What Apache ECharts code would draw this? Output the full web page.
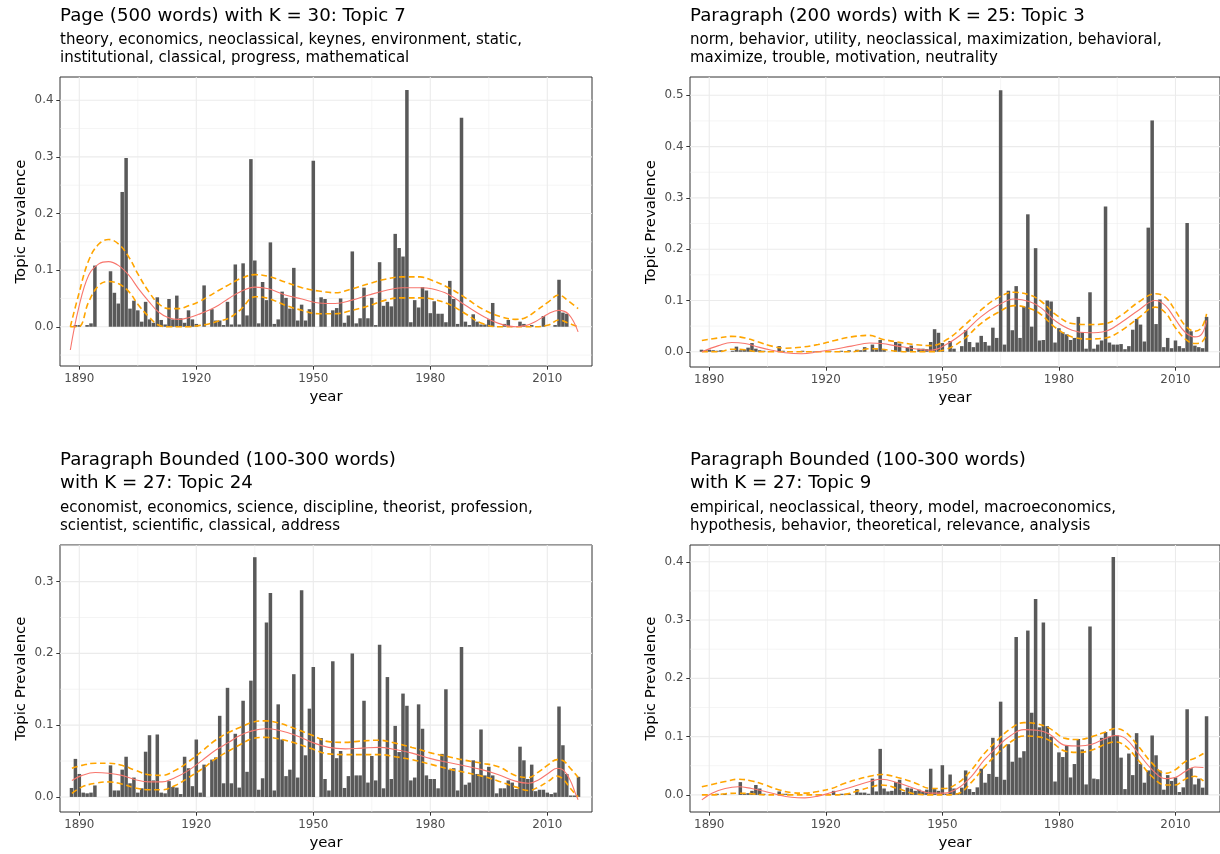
<!DOCTYPE html>
<html><head><meta charset="utf-8">
<script src="https://cdn.jsdelivr.net/npm/echarts@6/dist/echarts.min.js"></script>
<style>html,body{margin:0;padding:0;background:#fff}#c{width:1220px;height:854px}</style>
</head><body><div id="c"></div><script>
// ---------------- DATA ----------------
const xTickLabels = [1890, 1920, 1950, 1980, 2010];

// Panel 1
const p1Title = ['Page (500 words) with K = 30: Topic 7'];
const p1Subtitle = ['theory, economics, neoclassical, keynes, environment, static,', 'institutional, classical, progress, mathematical'];
const p1StartYear = 1889;
const p1Bars = [0.003,0.003,0,0.003,0.006,0.108,0,0,0,0.098,0.060,
 0.041,0.238,0.298,0.032,0.046,0.029,0.009,0.044,0.013,0.007,
 0.052,0.012,0.004,0.049,0.013,0.055,0.015,0.007,0.029,0.013,
 0.005,0,0.073,0,0.031,0.011,0.011,0.003,0.044,0.004,
 0.110,0.004,0.112,0.020,0.296,0.117,0.006,0.079,0.047,0.149,
 0.005,0.013,0.062,0.051,0.032,0.104,0.011,0.039,0.011,0.031,
 0.293,0,0.052,0.049,0,0.029,0.033,0.050,0.007,0.020,
 0.133,0.006,0.015,0.069,0.015,0.051,0.003,0.114,0.037,0.044,
 0.036,0.164,0.139,0.124,0.418,0.008,0.047,0.034,0.070,0.064,
 0.024,0.045,0.023,0.023,0.008,0.081,0.049,0.005,0.369,0.009,
 0.003,0.022,0.009,0.004,0.004,0.013,0.042,0,0,0.005,
 0.012,0,0,0.009,0.005,0,0.003,0,0,0.019,
 0,0,0.003,0.083,0.025,0.023];
const p1SmoothYears = [1887.7,1889.8,1892.4,1895.0,1897.5,1900.1,1902.7,1905.2,1907.8,1910.3,1912.9,1915.5,1918.0,1920.6,1923.2,1925.7,1928.3,1931.3,1935.1,1938.5,1942.8,1947.1,1951.4,1955.6,1959.9,1964.2,1968.5,1972.7,1977.4,1980.4,1984.7,1989.0,1993.2,1997.5,2001.8,2004.4,2006.9,2010.3,2012.9,2015.5,2017.9];
const p1Fit = [-0.041,0.032,0.091,0.111,0.115,0.108,0.091,0.067,0.045,0.026,0.016,0.013,0.016,0.022,0.029,0.038,0.050,0.062,0.070,0.067,0.056,0.049,0.042,0.041,0.047,0.056,0.064,0.069,0.069,0.067,0.057,0.038,0.020,0.006,0.000,0.002,0.009,0.023,0.029,0.022,-0.009];
const p1Upper = [0.000,0.056,0.117,0.146,0.154,0.146,0.123,0.091,0.062,0.041,0.032,0.032,0.037,0.044,0.054,0.064,0.074,0.085,0.092,0.089,0.079,0.069,0.063,0.060,0.067,0.076,0.084,0.088,0.088,0.082,0.069,0.051,0.032,0.019,0.013,0.016,0.027,0.044,0.056,0.045,0.032];
const p1Lower = [0,0,0.044,0.073,0.080,0.076,0.062,0.038,0.018,0.003,0,0,0,0.002,0.005,0.010,0.015,0.030,0.053,0.050,0.038,0.029,0.023,0.023,0.029,0.037,0.047,0.051,0.051,0.049,0.040,0.023,0.006,0,0,0,0,0.003,0.012,0.006,0];
const p1YTicks = [0, 0.1, 0.2, 0.3, 0.4];

// Panel 2
const p2Title = ['Paragraph (200 words) with K = 25: Topic 3'];
const p2Subtitle = ['norm, behavior, utility, neoclassical, maximization, behavioral,', 'maximize, trouble, motivation, neutrality'];
const p2StartYear = 1888;
const p2Bars = [0.004,0.003,0.004,0.003,0.002,0.003,0,0,0.002,0.010,0.003,0.004,
 0.008,0.017,0.006,0.003,0.002,0,0,0,0.011,0.002,
 0,0.001,0,0,0.002,0,0,0.001,0,0,
 0,0.002,0,0,0.002,0,0.003,0,0.004,0.003,
 0.009,0,0.014,0.005,0.023,0.005,0,0,0.019,0.016,
 0,0.009,0.012,0,0.006,0.006,0.005,0.019,0.044,0.037,
 0.017,0,0.021,0.006,0,0.011,0.042,0.019,0.009,0.018,
 0.031,0.019,0.012,0.047,0.027,0.510,0.014,0.119,0.042,0.128,
 0.027,0.088,0.268,0.049,0.202,0.022,0.023,0.100,0.098,0.018,
 0.046,0.038,0.034,0.023,0.027,0.068,0.038,0.006,0.116,0.006,
 0.014,0.022,0.283,0.018,0.014,0.014,0.015,0.005,0.011,0.043,
 0.064,0.053,0.020,0.242,0.451,0.054,0.102,0.009,0.027,0.007,
 0.022,0.011,0.007,0.251,0.040,0.012,0.009,0.007,0.068];
const p2SmoothYears = [1888.1,1892.4,1895.8,1899.2,1902.7,1906.1,1909.5,1913.8,1918.0,1922.3,1926.6,1931.3,1934.3,1938.5,1942.8,1947.1,1951.4,1955.6,1959.9,1964.2,1968.5,1972.7,1975.5,1979.1,1983.4,1987.7,1992.0,1996.2,2000.5,2004.8,2007.4,2009.9,2012.5,2015.0,2016.8,2018.0];
const p2Fit = [0.000,0.012,0.018,0.016,0.009,0.003,-0.002,-0.004,0.000,0.005,0.011,0.017,0.016,0.011,0.006,0.003,0.016,0.038,0.068,0.090,0.103,0.097,0.085,0.060,0.042,0.037,0.040,0.058,0.081,0.100,0.090,0.064,0.038,0.029,0.035,0.061];
const p2Upper = [0.022,0.027,0.030,0.027,0.019,0.011,0.007,0.009,0.014,0.022,0.029,0.032,0.025,0.019,0.014,0.012,0.025,0.051,0.081,0.105,0.116,0.110,0.098,0.073,0.055,0.053,0.055,0.072,0.097,0.113,0.106,0.081,0.051,0.040,0.048,0.074];
const p2Lower = [0,0,0.005,0.004,0,0,0,0,0,0,0,0.006,0.005,0.001,0,0,0.006,0.025,0.055,0.076,0.090,0.084,0.072,0.047,0.029,0.025,0.027,0.042,0.066,0.087,0.076,0.048,0.025,0.016,0.019,0.035];
const p2YTicks = [0, 0.1, 0.2, 0.3, 0.4, 0.5];

// Panel 3
const p3Title = ['Paragraph Bounded (100-300 words)', 'with K = 27: Topic 24'];
const p3Subtitle = ['economist, economics, science, discipline, theorist, profession,', 'scientist, scientific, classical, address'];
const p3StartYear = 1888;
const p3Bars = [0.0125,0.053,0.032,0.006,0.005,0.006,0.016,0,0,0,0.044,0.009,
 0.009,0.038,0.056,0.019,0.027,0.006,0.012,0.063,0.086,0.023,
 0.087,0.006,0.005,0.022,0.014,0.013,0.004,0.056,0.040,0.015,
 0.080,0.006,0.045,0,0.052,0.055,0.113,0.019,0.152,0.019,
 0.088,0.013,0.134,0.035,0.162,0.334,0.010,0.026,0.243,0.284,
 0.009,0.129,0.080,0.029,0.038,0.171,0.027,0.288,0.058,0.123,
 0.181,0,0.082,0.025,0.009,0.189,0.054,0.064,0.0125,0.029,
 0.200,0.030,0.030,0.134,0.020,0.057,0.023,0.212,0.012,0.167,
 0.025,0.099,0.0625,0.144,0.127,0.023,0.027,0.129,0.095,0.030,
 0.025,0.025,0.012,0.060,0.150,0.038,0.040,0.009,0.209,0.017,
 0.020,0.051,0.032,0.094,0.030,0.042,0.030,0.005,0.012,0.012,
 0.023,0.020,0.011,0.070,0.051,0.025,0.045,0.008,0.010,0.010,
 0.006,0.004,0.006,0.126,0.072,0.032,0.002,0.002,0.028];
const p3SmoothYears = [1888.1,1890.7,1894.1,1897.5,1900.9,1904.4,1907.8,1911.2,1914.6,1918.0,1921.5,1924.9,1928.3,1931.3,1934.3,1937.7,1941.1,1945.4,1949.7,1953.9,1958.2,1962.5,1966.8,1971.0,1975.3,1980.4,1984.7,1989.0,1993.2,1997.5,2001.8,2005.2,2007.8,2010.3,2012.5,2014.2,2015.9,2017.2,2017.9];
const p3Fit = [0.023,0.030,0.034,0.033,0.030,0.024,0.021,0.021,0.027,0.037,0.051,0.065,0.076,0.086,0.092,0.095,0.093,0.086,0.076,0.069,0.067,0.068,0.069,0.066,0.061,0.053,0.048,0.043,0.038,0.031,0.022,0.019,0.024,0.033,0.040,0.037,0.023,0.005,-0.004];
const p3Upper = [0.040,0.044,0.047,0.047,0.044,0.037,0.031,0.030,0.037,0.049,0.064,0.079,0.090,0.097,0.104,0.106,0.103,0.095,0.086,0.077,0.076,0.078,0.079,0.075,0.069,0.061,0.056,0.051,0.047,0.042,0.030,0.027,0.035,0.045,0.052,0.050,0.040,0.032,0.027];
const p3Lower = [0.005,0.014,0.019,0.021,0.018,0.0125,0.010,0.010,0.016,0.027,0.039,0.053,0.064,0.073,0.081,0.083,0.081,0.075,0.067,0.060,0.059,0.059,0.059,0.056,0.052,0.045,0.039,0.034,0.029,0.022,0.014,0.009,0.014,0.022,0.029,0.024,0.012,0.004,0];
const p3YTicks = [0, 0.1, 0.2, 0.3];

// Panel 4
const p4Title = ['Paragraph Bounded (100-300 words)', 'with K = 27: Topic 9'];
const p4Subtitle = ['empirical, neoclassical, theory, model, macroeconomics,', 'hypothesis, behavior, theoretical, relevance, analysis'];
const p4StartYear = 1888;
const p4Bars = [0,0,0,0,0.002,0,0.002,0,0,0,0.022,0.002,
 0.003,0.007,0.017,0.011,0.002,0,0,0,0.006,0.002,
 0.002,0,0,0,0,0,0,0,0,0,
 0,0,0.007,0,0.002,0.002,0.002,0,0.010,0.004,
 0.004,0.002,0.028,0.006,0.079,0.011,0.006,0.007,0.022,0.026,
 0.005,0.0125,0.011,0.007,0.009,0.006,0.009,0.045,0.010,0.007,
 0.051,0.002,0.035,0.011,0.003,0.0125,0.042,0.010,0.005,0.013,
 0.045,0.021,0.036,0.098,0.031,0.160,0.026,0.087,0.057,0.271,
 0.064,0.075,0.282,0.141,0.336,0.116,0.296,0.118,0.100,0.023,
 0.073,0.065,0.084,0.030,0.053,0.096,0.078,0.018,0.289,0.028,
 0.027,0.098,0.108,0.100,0.408,0.102,0.064,0.010,0.071,0.034,
 0.106,0.053,0.021,0.042,0.102,0.068,0.042,0.009,0.034,0.024,
 0.030,0.005,0.013,0.147,0.046,0.018,0.028,0.0125,0.135];
const p4SmoothYears = [1888.1,1890.7,1894.1,1897.5,1900.9,1904.4,1907.8,1911.2,1914.6,1918.0,1921.5,1924.9,1928.3,1931.3,1934.3,1938.5,1942.8,1947.1,1950.5,1953.9,1957.4,1960.8,1964.2,1967.6,1971.0,1974.4,1977.4,1981.7,1985.1,1988.5,1992.0,1994.5,1997.1,2000.5,2003.9,2007.4,2009.9,2012.5,2015.0,2017.2];
const p4Fit = [-0.0085,0.003,0.011,0.014,0.011,0.006,0.000,-0.004,-0.005,-0.002,0.004,0.010,0.017,0.023,0.027,0.021,0.011,0.003,0.003,0.011,0.031,0.060,0.083,0.102,0.112,0.111,0.105,0.085,0.084,0.087,0.097,0.102,0.097,0.071,0.044,0.028,0.030,0.040,0.048,0.047];
const p4Upper = [0.014,0.018,0.023,0.027,0.024,0.017,0.009,0.004,0.003,0.006,0.011,0.020,0.027,0.032,0.035,0.030,0.021,0.011,0.011,0.020,0.042,0.071,0.094,0.114,0.124,0.122,0.115,0.097,0.095,0.100,0.108,0.114,0.108,0.083,0.055,0.037,0.043,0.057,0.063,0.071];
const p4Lower = [0,0,0.002,0.003,0.002,0,0,0,0,0,0,0.001,0.007,0.013,0.017,0.011,0.002,0,0,0.002,0.021,0.048,0.071,0.091,0.101,0.100,0.094,0.075,0.073,0.077,0.087,0.091,0.084,0.059,0.032,0.017,0.017,0.027,0.032,0.024];
const p4YTicks = [0, 0.1, 0.2, 0.3, 0.4];

// ---------------- LAYOUT / STYLE ----------------
const FONT = '"DejaVu Sans", "Liberation Sans", Arial, sans-serif';
const X_MIN = 1885.05, X_MAX = 2021.46;
const xMinorTicks = [1905, 1935, 1965, 1995];
const TITLE_SIZE = 18.2, SUB_SIZE = 15.0, AXTITLE_SIZE = 14.9, TICK_SIZE = 11.9;

const panels = [
  {title: p1Title, sub: p1Subtitle, start: p1StartYear, bars: p1Bars, sy: p1SmoothYears, fit: p1Fit, up: p1Upper, lo: p1Lower,
   yTicks: p1YTicks, yMinor: [-0.05,0.05,0.15,0.25,0.35], yMin: -0.0693, yMax: 0.441,
   grid: {left: 60, top: 77, width: 532, height: 289}, titleY: [16.5], subY: [40.5, 58.5]},
  {title: p2Title, sub: p2Subtitle, start: p2StartYear, bars: p2Bars, sy: p2SmoothYears, fit: p2Fit, up: p2Upper, lo: p2Lower,
   yTicks: p2YTicks, yMinor: [0.05,0.15,0.25,0.35,0.45], yMin: -0.0297, yMax: 0.5357,
   grid: {left: 690, top: 77, width: 532, height: 290}, titleY: [16.5], subY: [40.5, 58.5]},
  {title: p3Title, sub: p3Subtitle, start: p3StartYear, bars: p3Bars, sy: p3SmoothYears, fit: p3Fit, up: p3Upper, lo: p3Lower,
   yTicks: p3YTicks, yMinor: [0.05,0.15,0.25,0.35], yMin: -0.021, yMax: 0.351,
   grid: {left: 60, top: 545, width: 532, height: 267}, titleY: [460.5, 483.5], subY: [508.5, 526.5]},
  {title: p4Title, sub: p4Subtitle, start: p4StartYear, bars: p4Bars, sy: p4SmoothYears, fit: p4Fit, up: p4Upper, lo: p4Lower,
   yTicks: p4YTicks, yMinor: [0.05,0.15,0.25,0.35], yMin: -0.0293, yMax: 0.4288,
   grid: {left: 690, top: 545, width: 532, height: 267}, titleY: [460.5, 483.5], subY: [508.5, 526.5]}
];

const grids = [], xAxes = [], yAxes = [], series = [], graphics = [];

function vLineRender(params, api) {
  const cs = params.coordSys;
  const x = api.coord([api.value(0), 0])[0];
  return {type: 'line', silent: true,
    shape: {x1: x, y1: cs.y, x2: x, y2: cs.y + cs.height},
    style: {stroke: '#EBEBEB', lineWidth: api.value(1) ? 1.1 : 0.55}};
}
function hLineRender(params, api) {
  const cs = params.coordSys;
  const y = api.coord([2000, api.value(0)])[1];
  return {type: 'line', silent: true,
    shape: {x1: cs.x, y1: y, x2: cs.x + cs.width, y2: y},
    style: {stroke: '#EBEBEB', lineWidth: api.value(1) ? 1.1 : 0.55}};
}

panels.forEach((p, i) => {
  grids.push(Object.assign({show: true, borderColor: '#333333', borderWidth: 1, backgroundColor: '#fff'}, p.grid));
  xAxes.push({
    gridIndex: i, type: 'value', min: X_MIN, max: X_MAX,
    name: 'year', nameLocation: 'middle', nameGap: 24,
    nameTextStyle: {fontFamily: FONT, fontSize: AXTITLE_SIZE, color: '#000', verticalAlign: 'top'},
    axisLine: {show: false, onZero: false},
    axisTick: {show: true, length: 3.7, lineStyle: {color: '#333333', width: 1}, customValues: xTickLabels},
    axisLabel: {customValues: xTickLabels, fontFamily: FONT, fontSize: TICK_SIZE, color: '#4D4D4D', margin: 6.5,
      formatter: v => String(v)},
    splitLine: {show: false}
  });
  yAxes.push({
    gridIndex: i, type: 'value', min: p.yMin, max: p.yMax,
    name: 'Topic Prevalence', nameLocation: 'middle', nameGap: 31,
    nameTextStyle: {fontFamily: FONT, fontSize: AXTITLE_SIZE, color: '#000'},
    axisLine: {show: false, onZero: false},
    axisTick: {show: true, length: 3.7, lineStyle: {color: '#333333', width: 1}, customValues: p.yTicks},
    axisLabel: {customValues: p.yTicks, fontFamily: FONT, fontSize: TICK_SIZE, color: '#4D4D4D', margin: 6.5,
      formatter: v => v.toFixed(1)},
    splitLine: {show: false}
  });
  series.push({type: 'custom', xAxisIndex: i, yAxisIndex: i, z: 0, silent: true, renderItem: vLineRender,
    data: xTickLabels.map(v => [v, 1]).concat(xMinorTicks.map(v => [v, 0]))});
  series.push({type: 'custom', xAxisIndex: i, yAxisIndex: i, z: 0, silent: true, renderItem: hLineRender,
    encode: {x: 2, y: 0},
    data: p.yTicks.map(v => [v, 1, 2000]).concat(p.yMinor.map(v => [v, 0, 2000]))});
  series.push({type: 'line', xAxisIndex: i, yAxisIndex: i, stack: 'band' + i, smooth: 0.4, symbol: 'none', z: 1,
    lineStyle: {opacity: 0}, data: p.sy.map((y, k) => [y, p.lo[k]])});
  series.push({type: 'line', xAxisIndex: i, yAxisIndex: i, stack: 'band' + i, smooth: 0.4, symbol: 'none', z: 1,
    lineStyle: {opacity: 0}, areaStyle: {color: 'rgba(255,165,0,0.15)', opacity: 1},
    data: p.sy.map((y, k) => [y, p.up[k] - p.lo[k]])});
  const bw = p.grid.width * 0.9 / (X_MAX - X_MIN);
  series.push({type: 'bar', xAxisIndex: i, yAxisIndex: i, barWidth: bw, z: 2,
    itemStyle: {color: '#595959'},
    data: p.bars.map((v, k) => [p.start + k, v]).filter(d => d[1] > 0)});
  [p.up, p.lo].forEach(arr => {
    series.push({type: 'line', xAxisIndex: i, yAxisIndex: i, smooth: 0.4, symbol: 'none', z: 3,
      lineStyle: {color: '#FFA500', width: 1.6, type: [6, 3.5]},
      data: p.sy.map((y, k) => [y, arr[k]])});
  });
  series.push({type: 'line', xAxisIndex: i, yAxisIndex: i, smooth: 0.4, symbol: 'none', z: 4,
    lineStyle: {color: '#F8766D', width: 1.1},
    data: p.sy.map((y, k) => [y, p.fit[k]])});
  p.title.forEach((t, k) => graphics.push({type: 'text', x: p.grid.left, y: p.titleY[k],
    style: {text: t, fill: '#000', font: TITLE_SIZE + 'px ' + FONT, verticalAlign: 'middle', textVerticalAlign: 'middle'}}));
  p.sub.forEach((t, k) => graphics.push({type: 'text', x: p.grid.left, y: p.subY[k],
    style: {text: t, fill: '#000', font: SUB_SIZE + 'px ' + FONT, verticalAlign: 'middle', textVerticalAlign: 'middle'}}));
});

const chart = echarts.init(document.getElementById('c'), null, {renderer: 'canvas'});
chart.setOption({
  animation: false,
  backgroundColor: '#fff',
  grid: grids, xAxis: xAxes, yAxis: yAxes, series: series, graphic: graphics
});
</script></body></html>
